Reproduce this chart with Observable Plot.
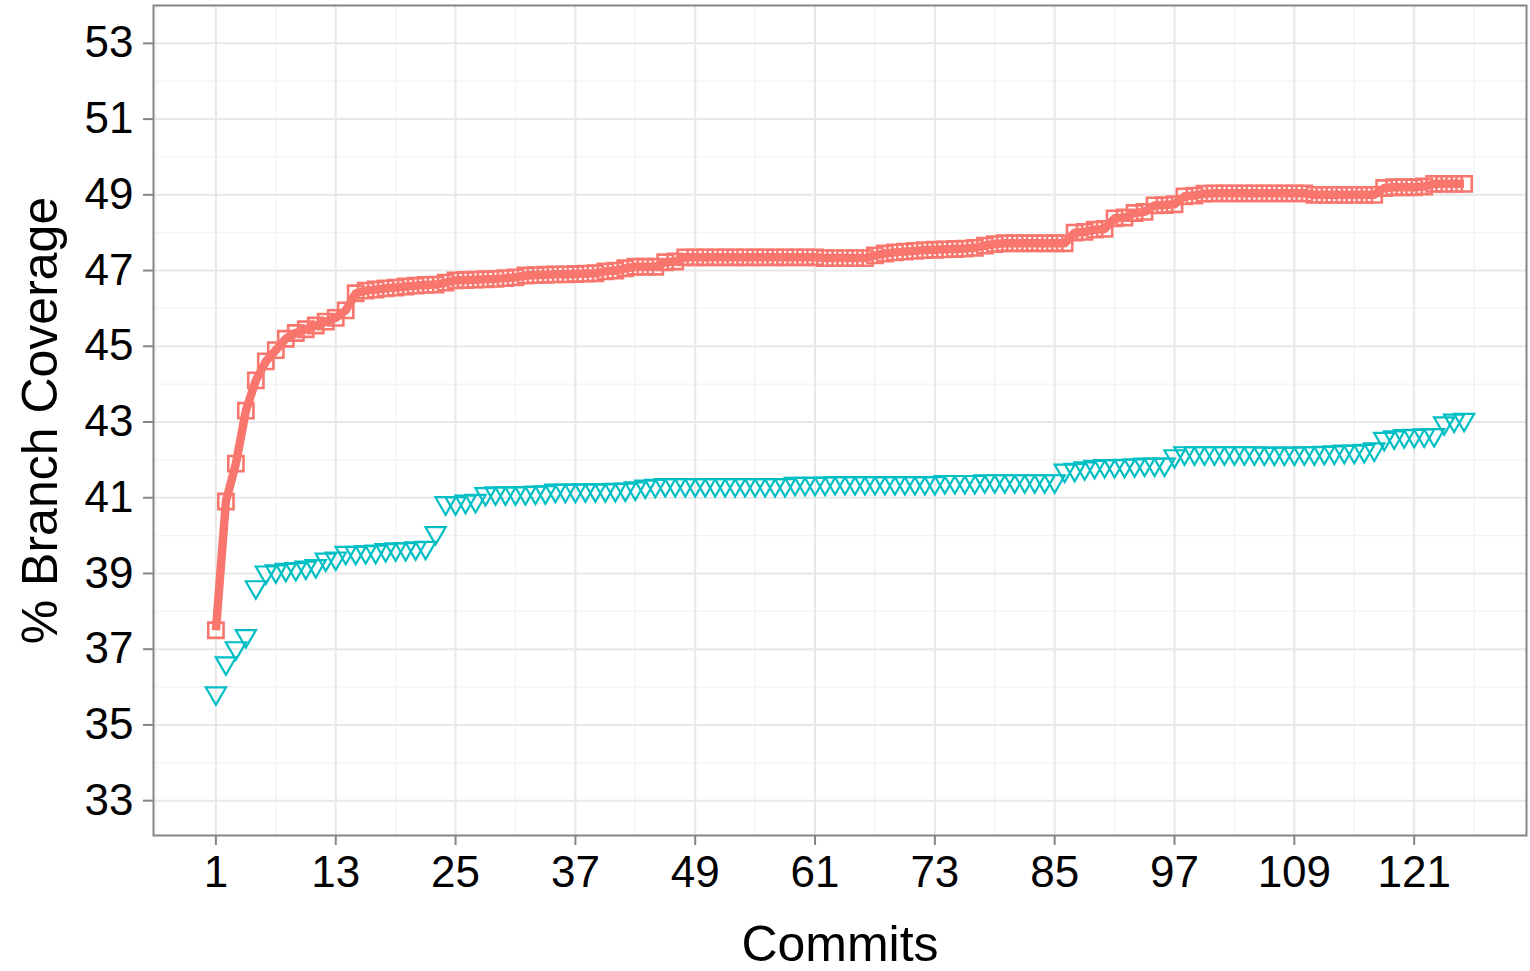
<!DOCTYPE html>
<html><head><meta charset="utf-8">
<script src="https://cdn.jsdelivr.net/npm/d3@7"></script>
<script src="https://cdn.jsdelivr.net/npm/@observablehq/plot@0.6"></script>
<style>
body{margin:0;background:#fff}
#chart svg{display:block}
</style></head><body><div id="chart"></div>
<script>
// ---- data ----
const redCoverage = [
  37.5, 40.9, 41.9, 43.3, 44.1, 44.6, 44.9, 45.2, 45.35, 45.45,
  45.55, 45.65, 45.75, 45.95, 46.4, 46.47, 46.5, 46.53, 46.55, 46.58,
  46.6, 46.62, 46.63, 46.68, 46.74, 46.75, 46.76, 46.77, 46.78, 46.8,
  46.82, 46.87, 46.88, 46.89, 46.9, 46.9, 46.91, 46.92, 46.93, 46.98,
  47.0, 47.06, 47.1, 47.1, 47.1, 47.22, 47.24, 47.35, 47.35, 47.35,
  47.35, 47.35, 47.35, 47.35, 47.35, 47.35, 47.35, 47.35, 47.35, 47.35,
  47.35, 47.33, 47.33, 47.33, 47.33, 47.33, 47.4, 47.45, 47.48, 47.5,
  47.52, 47.54, 47.55, 47.56, 47.57, 47.58, 47.6, 47.66, 47.7, 47.72,
  47.72, 47.72, 47.72, 47.72, 47.72, 47.72, 48.0, 48.02, 48.08, 48.1,
  48.38, 48.4, 48.52, 48.55, 48.72, 48.73, 48.75, 48.96, 48.98, 49.03,
  49.04, 49.04, 49.04, 49.04, 49.04, 49.04, 49.04, 49.04, 49.04, 49.04,
  49.0, 49.0, 49.0, 49.0, 49.0, 49.0, 49.0, 49.18, 49.2, 49.2,
  49.2, 49.22, 49.29, 49.29, 49.29, 49.29
];
const cyanCoverage = [
  35.84, 36.63, 37.03, 37.35, 38.64, 39.03, 39.06, 39.1, 39.12, 39.16,
  39.2, 39.37, 39.4, 39.55, 39.55, 39.57, 39.58, 39.62, 39.64, 39.65,
  39.67, 39.68, 40.07, 40.86, 40.86, 40.9, 40.92, 41.1, 41.12, 41.12,
  41.12, 41.13, 41.14, 41.15, 41.19, 41.19, 41.19, 41.2, 41.2, 41.2,
  41.21, 41.22, 41.25, 41.3, 41.32, 41.34, 41.34, 41.34, 41.34, 41.34,
  41.34, 41.34, 41.34, 41.34, 41.34, 41.34, 41.34, 41.34, 41.37, 41.37,
  41.37, 41.38, 41.39, 41.39, 41.39, 41.39, 41.39, 41.39, 41.39, 41.39,
  41.39, 41.39, 41.39, 41.42, 41.42, 41.42, 41.42, 41.44, 41.44, 41.44,
  41.44, 41.44, 41.44, 41.44, 41.44, 41.72, 41.74, 41.78, 41.82, 41.84,
  41.84, 41.85, 41.86, 41.88, 41.88, 41.88, 42.1, 42.18, 42.18, 42.18,
  42.18, 42.18, 42.18, 42.18, 42.18, 42.17, 42.17, 42.17, 42.17, 42.18,
  42.18, 42.19, 42.2, 42.22, 42.22, 42.24, 42.28, 42.56, 42.6, 42.63,
  42.64, 42.65, 42.66, 42.97, 43.04, 43.06
];
const xTicks = [1, 13, 25, 37, 49, 61, 73, 85, 97, 109, 121];
const xMinor = [-5, 7, 19, 31, 43, 55, 67, 79, 91, 103, 115, 127];
const yTicks = [33, 35, 37, 39, 41, 43, 45, 47, 49, 51, 53];
const yMinor = [34, 36, 38, 40, 42, 44, 46, 48, 50, 52];
const xLabel = "Commits";
const yLabel = "% Branch Coverage";

const redData = redCoverage.map((v, i) => ({commit: i + 1, value: v}));
const cyanData = cyanCoverage.map((v, i) => ({commit: i + 1, value: v}));

const RED = "#F8766D", CYAN = "#00BFC4", AXIS = "#858585";

const triDown = {
  draw(ctx, size) {
    const s = Math.sqrt(size * 4 / Math.sqrt(3));
    const h = s * Math.sqrt(3) / 2;
    ctx.moveTo(-s / 2, -h / 3);
    ctx.lineTo(s / 2, -h / 3);
    ctx.lineTo(0, 2 * h / 3);
    ctx.closePath();
  }
};

const chart = Plot.plot({
  width: 1530,
  height: 971,
  marginLeft: 153,
  marginRight: 4,
  marginTop: 5,
  marginBottom: 136,
  style: {fontFamily: "'Liberation Sans', Arial, Helvetica, sans-serif", background: "white", color: "black"},
  x: {domain: [-5.25, 132.25]},
  y: {domain: [32.08, 54.0]},
  marks: [
    Plot.ruleX(xMinor, {stroke: "#f3f3f3", strokeWidth: 1.3}),
    Plot.ruleY(yMinor, {stroke: "#f3f3f3", strokeWidth: 1.3}),
    Plot.ruleX(xTicks, {stroke: "#e8e8e8", strokeWidth: 2}),
    Plot.ruleY(yTicks, {stroke: "#e8e8e8", strokeWidth: 2}),
    Plot.frame({stroke: AXIS, strokeWidth: 2}),
    Plot.axisX(xTicks, {tickSize: 10, tickPadding: 10, fontSize: 44, stroke: AXIS, strokeWidth: 2, fill: "black", label: null}),
    Plot.axisY(yTicks, {tickSize: 10, tickPadding: 10, fontSize: 44, stroke: AXIS, strokeWidth: 2, fill: "black", label: null}),
    Plot.line(redData, {x: "commit", y: "value", stroke: RED, strokeWidth: 8.5, strokeLinecap: "butt"}),
    Plot.dot(redData, {x: "commit", y: "value", symbol: "square", r: 8.6, stroke: RED, strokeWidth: 2.6, fill: "none"}),
    Plot.dot(cyanData, {x: "commit", y: "value", symbol: triDown, r: 7.5, stroke: CYAN, strokeWidth: 2.2, fill: "none"}),
    Plot.text([xLabel], {text: d => d, frameAnchor: "bottom", lineAnchor: "middle", dy: 109, fontSize: 50, fill: "black"}),
    Plot.text([yLabel], {text: d => d, frameAnchor: "left", textAnchor: "middle", lineAnchor: "middle", dx: -113, rotate: -90, fontSize: 50, fill: "black"})
  ]
});
document.getElementById("chart").appendChild(chart);
</script></body></html>
